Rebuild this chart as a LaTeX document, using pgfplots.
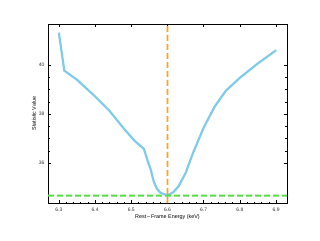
\documentclass[border=0pt]{standalone}
\usepackage{pgfplots}
\pgfplotsset{compat=1.18}
\usepackage{fontspec}
\setmainfont{Liberation Sans}
\definecolor{curvec}{HTML}{7FCBE8}
\definecolor{orangec}{HTML}{FFA020}
\definecolor{greenc}{HTML}{55DD44}
\begin{document}
\begin{tikzpicture}
\useasboundingbox (-48pt,-37pt) rectangle (272pt,203pt);
\begin{axis}[
  at={(0pt,0pt)}, anchor=south west,
  scale only axis, width=239pt, height=179pt,
  xmin=6.27, xmax=6.93, ymin=34.38, ymax=41.67,
  xtick={6.3,6.4,6.5,6.6,6.7,6.8,6.9},
  xticklabels={6.3,6.4,6.5,6.6,6.7,6.8,6.9},
  ytick={36,38,40},
  minor x tick num=4, minor y tick num=3,
  tick align=inside, xtick pos=both, ytick pos=both,
  major tick length=3pt, minor tick length=1.5pt,
  every tick/.style={black, line width=0.5pt},
  axis line style={black, line width=0.8pt},
  tick label style={font=\fontsize{5}{6}\selectfont, text=black!80},
  /pgf/number format/assume math mode=true,
  xticklabel style={yshift=-1pt},
  label style={font=\fontsize{5.4}{6}\selectfont},
  xlabel={Rest\,--\,Frame Energy (keV)},
  ylabel={Statistic Value},
  xlabel style={yshift=3pt},
  ylabel style={yshift=-4pt},
]
\addplot[color=curvec, line width=2.2pt] coordinates {
(6.300,41.32) (6.315,39.77) (6.350,39.40) (6.400,38.72) (6.440,38.13)
(6.480,37.40) (6.510,36.90) (6.535,36.58) (6.545,36.10) (6.554,35.73)
(6.562,35.25) (6.570,34.98) (6.580,34.80) (6.600,34.69) (6.616,34.82)
(6.630,35.05) (6.650,35.60) (6.670,36.40) (6.700,37.45) (6.730,38.30)
(6.761,38.95) (6.800,39.48) (6.850,40.07) (6.900,40.60)
};
\addplot[color=greenc, line width=1.8pt, dash pattern=on 6pt off 3pt] coordinates {(6.27,34.68) (6.93,34.681)};
\addplot[color=orangec, line width=1.8pt, dash pattern=on 6pt off 3pt] coordinates {(6.6,34.38) (6.6001,41.67)};
\end{axis}
\end{tikzpicture}
\end{document}
